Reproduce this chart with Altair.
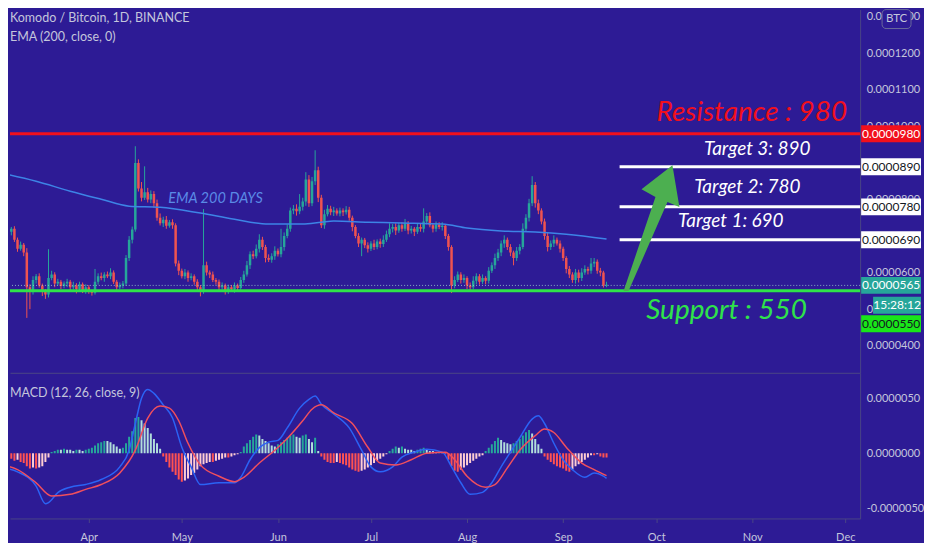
import altair as alt
import pandas as pd

# ---------------- data ----------------
first_day = "2019-03-04"
first_open = 705
closes = [
    715, 728, 712, 720, 690, 665, 676, 655, 560, 548,
    580, 590, 565, 548, 540, 585, 595, 570, 575, 563,
    570, 575, 560, 565, 555, 568, 552, 560, 548, 545,
    575, 590, 585, 595, 590, 600, 575, 560, 565, 570,
    640, 690, 718, 900, 830, 805, 820, 800, 815, 790,
    750, 735, 745, 728, 738, 730, 625, 605, 590, 600,
    585, 590, 575, 560, 548, 620, 600, 595, 580, 575,
    560, 565, 550, 560, 555, 565, 558, 580, 595, 620,
    650, 645, 665, 690, 670, 640, 635, 645, 660, 650,
    670, 700, 720, 770, 775, 768, 780, 795, 855, 790,
    850, 880, 805, 730, 760, 775, 765, 770, 762, 770,
    765, 772, 750, 725, 700, 680, 690, 675, 665, 680,
    670, 685, 678, 690, 705, 720, 725, 715, 730, 720,
    735, 715, 720, 712, 725, 720, 740, 755, 730, 720,
    732, 725, 728, 700, 670, 565, 580, 595, 580, 585,
    565, 560, 578, 590, 575, 585, 578, 605, 620, 640,
    655, 680, 690, 670, 655, 640, 660, 670, 720, 750,
    790, 840, 790, 770, 740, 700, 670, 680, 690, 680,
    665, 640, 610, 595, 580, 600, 585, 600, 610, 605,
    625, 630, 605, 600, 565, 567,
]
upper_wick = [
    8, 6, 10, 5, 7, 6, 9, 5, 12, 8,
    10, 6, 8, 5, 7, 79, 10, 6, 8, 5,
    6, 8, 5, 10, 6, 7, 5, 8, 6, 5,
    35, 8, 10, 6, 8, 12, 6, 5, 8, 7,
    8, 10, 8, 46, 10, 18, 71, 12, 10, 8,
    10, 12, 8, 10, 6, 8, 5, 8, 6, 10,
    6, 8, 5, 7, 6, 154, 10, 6, 8, 5,
    6, 8, 5, 7, 6, 8, 5, 8, 10, 12,
    8, 10, 12, 15, 8, 6, 10, 8, 12, 6,
    50, 10, 12, 8, 10, 12, 35, 10, 20, 12,
    12, 55, 10, 8, 12, 10, 8, 10, 6, 8,
    6, 10, 8, 6, 5, 8, 6, 5, 8, 6,
    10, 6, 8, 12, 10, 15, 8, 10, 6, 8,
    12, 6, 8, 5, 10, 8, 36, 8, 10, 6,
    8, 6, 10, 5, 6, 5, 10, 8, 6, 10,
    5, 8, 12, 8, 6, 10, 5, 10, 8, 12,
    10, 8, 12, 6, 8, 5, 10, 8, 15, 10,
    12, 24, 8, 10, 6, 8, 10, 8, 12, 6,
    8, 6, 5, 8, 6, 10, 8, 12, 10, 6,
    15, 10, 6, 8, 5, 8,
]
lower_wick = [
    6, 8, 5, 10, 6, 8, 5, 10, 84, 48,
    8, 10, 6, 12, 12, 8, 6, 10, 5, 8,
    6, 10, 8, 6, 12, 5, 8, 10, 6, 8,
    5, 8, 6, 10, 5, 8, 6, 12, 5, 8,
    6, 8, 10, 6, 8, 10, 6, 8, 10, 12,
    8, 6, 10, 8, 5, 10, 8, 12, 6, 8,
    10, 6, 8, 10, 13, 6, 8, 10, 6, 8,
    12, 6, 10, 8, 6, 10, 8, 5, 8, 6,
    10, 8, 6, 10, 8, 12, 6, 8, 10, 6,
    8, 10, 6, 8, 10, 12, 8, 10, 12, 10,
    8, 10, 12, 8, 10, 6, 8, 10, 6, 8,
    10, 6, 8, 12, 6, 10, 35, 8, 10, 6,
    8, 6, 10, 8, 6, 8, 10, 12, 6, 8,
    6, 10, 8, 12, 6, 8, 10, 8, 6, 10,
    8, 6, 10, 8, 10, 21, 8, 6, 10, 8,
    10, 8, 6, 10, 8, 6, 10, 8, 6, 10,
    8, 10, 12, 8, 10, 20, 8, 10, 6, 8,
    10, 8, 12, 10, 8, 10, 12, 8, 10, 6,
    10, 8, 12, 10, 8, 10, 12, 8, 6, 10,
    8, 10, 8, 10, 6, 5,
]
ema_day = [0, 11, 22, 32, 41, 51, 64, 75, 86, 97, 103, 107, 118, 129, 142, 150, 161, 172, 182, 195]
ema_val = [872, 850, 823, 801, 782, 779, 763, 746, 733, 733, 738, 741, 738, 736, 733, 722, 714, 711, 705, 692]

hist = [
    -3, -2, -4, -5, -7, -6, -8, -9, -12, -14,
    -13, -14, -13, -12, -8, -4, 1, 2, 3, 3,
    4, 3, 3, 2, 3, 3, 2, 3, 4, 5,
    7, 9, 10, 11, 11, 10, 8, 6, 4, 5,
    9, 15, 20, 32, 33, 30, 27, 23, 18, 13,
    9, 4, -3, -8, -13, -17, -20, -24, -26, -25,
    -23, -20, -18, -15, -12, -10, -9, -8, -8, -7,
    -6, -5, -4, -4, -3, -2, -1, 1, 6, 9,
    12, 15, 17, 16, 13, 11, 9, 7, 6, 8,
    10, 12, 14, 16, 17, 15, 14, 16, 17, 13,
    10, 14, 2, -3, -6, -8, -9, -9, -8, -9,
    -10, -11, -13, -15, -16, -17, -16, -15, -13, -11,
    -9, -7, -5, -3, -1, 2, 4, 6, 5, 6,
    4, 3, 3, 2, 3, 4, 5, 3, 2, 2,
    1, 2, 1, -1, -6, -12, -16, -17, -15, -13,
    -11, -9, -7, -5, -3, -2, 2, 5, 8, 11,
    14, 12, 10, 9, 8, 9, 11, 13, 16, 19,
    21, 18, 13, 8, 4, -3, -6, -8, -10, -12,
    -13, -14, -16, -17, -15, -12, -10, -8, -6, -4,
    -2, -2, -1, -3, -4, -4,
]
macd_day = [0, 5, 11, 14, 15, 18, 22, 27, 32, 38, 41, 43, 45, 47, 49, 52, 55, 58, 61, 64,
            70, 75, 77, 80, 83, 86, 89, 92, 96, 99, 101, 103, 107, 112, 116, 119, 122, 126, 129, 133,
            137, 142, 145, 148, 151, 155, 158, 161, 164, 167, 171, 173, 175, 178, 181, 184, 188, 191, 194, 195]
macd_val = [-13.4, -17, -30, -46, -45, -36, -31, -28.5, -24, -12.5, 2.7, 27, 50, 58, 54.5, 44, 32, 5.4, -12.5, -28.6,
            -27, -27, -22, -6, 5, 10, 11.6, 23, 41, 49, 52, 44.6, 35.7, 23, 2.7, -12.5, -17, -12.5, -3.6, 0.9,
            3.6, 0.9, -12.5, -27, -37.5, -35.7, -27, -12.5, 0.9, 14, 31, 34, 27, 9, -6, -15, -22, -18, -21, -23]
signal_day = [0, 5, 11, 16, 22, 27, 32, 38, 43, 47, 51, 54, 57, 60, 64, 70, 75, 78, 83, 88,
              92, 97, 100, 103, 107, 113, 118, 122, 127, 132, 137, 143, 146, 150, 156, 159, 163, 167, 172, 175,
              178, 182, 187, 191, 195]
signal_val = [-10.7, -15, -27, -39, -37.5, -33, -28.6, -18, 2.7, 32, 43, 41, 29.5, 9, -10.7, -21, -26, -22, -9, 2.7,
              13.4, 29.5, 40, 44, 36.6, 27, 5.4, -9, -10.7, -6, 0, 0.9, -6, -21, -31, -28.6, -13.4, 2.7, 16, 22,
              18.8, 5.4, -9, -15, -20.5]

price_ticks = [400, 500, 600, 800, 1000, 1100, 1200, 1300]
macd_ticks = [-50, 0, 50]
resistance = 980
support = 550
targets = [890, 780, 690]
last_price = 565
timer_text = "15:28:12"
title_text = "Komodo / Bitcoin, 1D, BINANCE"
ema_legend = "EMA (200, close, 0)"
macd_legend = "MACD (12, 26, close, 9)"

big_notes = ["Resistance : 980", "Support : 550"]
big_note_day = ["2019-10-31T21:00:00", "2019-10-23T17:00:00"]
big_note_val = [1036, 495]
target_notes = ["Target 3: 890", "Target 2: 780", "Target 1: 690"]
target_note_day = ["2019-11-02T14:00:00", "2019-10-30T10:00:00", "2019-10-25T02:00:00"]
target_note_val = [938, 834, 741]
target_line_start = "2019-09-19T05:00:00"
target_line_end = "2019-12-31T00:00:00"
ema_note = ["EMA 200 DAYS"]
ema_note_day = ["2019-05-11T21:00:00"]
ema_note_val = [802]
arrow_day = ["2019-09-29T12:00:00"]
arrow_val = [722]

# ---------------- styles ----------------
BG = "#2d1b95"
SEP = "#4a4585"
TXT = "#c4c6dc"
UP = "#26a69a"
DOWN = "#ef5350"
RED = "#f2101c"
GREEN = "#2fe34a"
FONT = "Lato"
PW = 852  # plot width

dates = pd.date_range(first_day, periods=len(closes), freq="D")
opens = [first_open] + closes[:-1]
highs = [max(o, c) + u for o, c, u in zip(opens, closes, upper_wick)]
lows = [min(o, c) - l for o, c, l in zip(opens, closes, lower_wick)]
cdf = pd.DataFrame({"d": dates, "o": opens, "c": closes, "h": highs, "l": lows,
                    "col": [UP if c >= o else DOWN for o, c in zip(opens, closes)]})

hcol = []
for i, h in enumerate(hist):
    prev = hist[i - 1] if i > 0 else h
    if h >= 0:
        hcol.append("#26a69a" if h > prev else "#b2dfdb")
    else:
        hcol.append("#ffcdd2" if h > prev else "#ff5252")
hdf = pd.DataFrame({"d": dates, "h": hist, "z": [0] * len(hist), "col": hcol})
macd_df = pd.DataFrame({"d": dates[macd_day], "m": macd_val})
sig_df = pd.DataFrame({"d": dates[signal_day], "s": signal_val})
ema_df = pd.DataFrame({"d": dates[ema_day], "e": ema_val})

XSCALE = alt.Scale(domain=[alt.DateTime(year=2019, month=3, date=6, hours=13, minutes=48),
                           alt.DateTime(year=2019, month=12, date=5, hours=19, minutes=12)],
                   padding=0, nice=False)
PSCALE = alt.Scale(domain=[325.7, 1320.2], nice=False, zero=False, padding=0)
MSCALE = alt.Scale(domain=[-59.5, 73.2], nice=False, zero=False, padding=0)
LABEL_EXPR = "replace(format(datum.value / 10000000, '.7f'), '\u2212', '-')"

PAXIS = alt.Axis(orient="right", values=price_ticks, labelExpr=LABEL_EXPR, grid=False, ticks=False,
                 domain=True, domainColor=SEP, title=None, labelPadding=6)
MAXIS = alt.Axis(orient="right", values=macd_ticks, labelExpr=LABEL_EXPR, grid=False, ticks=False,
                 domain=True, domainColor=SEP, title=None, labelPadding=6)
XTOP = alt.X("d:T", scale=XSCALE, axis=alt.Axis(labels=False, ticks=False, domain=True, domainColor=SEP,
                                               grid=False, title=None))
XBOT = alt.X("d:T", scale=XSCALE, axis=alt.Axis(format="%b", tickCount={"interval": "month", "step": 1},
                                               labelFlush=False, grid=False, title=None, tickSize=4,
                                               tickColor=SEP, domainColor=SEP, labelPadding=9))

def py(field):
    return alt.Y(field, scale=PSCALE, axis=PAXIS)

# ---------------- price panel ----------------
res_rule = alt.Chart(pd.DataFrame({"v": [resistance]})).mark_rule(color=RED, strokeWidth=3).encode(y=py("v:Q"))
sup_rule = alt.Chart(pd.DataFrame({"v": [support]})).mark_rule(color=GREEN, strokeWidth=3).encode(y=py("v:Q"))
last_rule = alt.Chart(pd.DataFrame({"v": [last_price]})).mark_rule(
    color="#9fd8d0", strokeWidth=1, strokeDash=[1, 2], opacity=0.8).encode(y=py("v:Q"))
wicks = alt.Chart(cdf).mark_rule(strokeWidth=1, clip=True).encode(
    x=XTOP, y=py("l:Q"), y2="h:Q", color=alt.Color("col:N", scale=None))
bodies = alt.Chart(cdf).mark_bar(size=2.5, clip=True).encode(
    x=XTOP, y=py("o:Q"), y2="c:Q", color=alt.Color("col:N", scale=None))
ema_line = alt.Chart(ema_df).mark_line(color="#3d84e6", strokeWidth=1.5, interpolate="monotone", clip=True).encode(
    x=XTOP, y=py("e:Q"))
tdf = pd.DataFrame({"d": [target_line_start] * 3, "d2": [target_line_end] * 3, "v": targets})
target_rules = alt.Chart(tdf).mark_rule(color="#ffffff", strokeWidth=3, clip=True).encode(
    x=XTOP, x2="d2:T", y=py("v:Q"))
ARROW = "M-0.444,1L0.063,-0.492L-0.159,-0.619L0.333,-1L0.444,-0.333L0.254,-0.413L-0.365,1Z"
arrow = alt.Chart(pd.DataFrame({"d": arrow_day, "v": arrow_val})).mark_point(
    shape=ARROW, size=15876, filled=True, opacity=1, color="#4caf50", strokeWidth=0).encode(x=XTOP, y=py("v:Q"))

bdf = pd.DataFrame({"d": big_note_day, "v": big_note_val, "t": big_notes, "col": [RED, GREEN]})
big_text = alt.Chart(bdf).mark_text(font=FONT, fontSize=28, fontStyle="italic", align="center",
                                    baseline="middle").encode(
    x=XTOP, y=py("v:Q"), text="t:N", color=alt.Color("col:N", scale=None))
tndf = pd.DataFrame({"d": target_note_day, "v": target_note_val, "t": target_notes})
target_text = alt.Chart(tndf).mark_text(font=FONT, fontSize=19, fontStyle="italic", align="center",
                                        baseline="middle", color="#ffffff").encode(
    x=XTOP, y=py("v:Q"), text="t:N")
endf = pd.DataFrame({"d": ema_note_day, "v": ema_note_val, "t": ema_note})
ema_text = alt.Chart(endf).mark_text(font=FONT, fontSize=14.5, fontStyle="italic", align="center",
                                     baseline="middle", color="#5a8ae6").encode(
    x=XTOP, y=py("v:Q"), text="t:N")

leg_df = pd.DataFrame({"t": [title_text, ema_legend], "yy": [8, 27]})
legend = alt.Chart(leg_df).mark_text(font=FONT, fontSize=12.5, align="left", baseline="middle",
                                     color=TXT).encode(
    x=alt.value(0), y=alt.Y("yy:Q", scale=None), text="t:N")

badge_levels = [resistance] + targets + [last_price]
badge_fill = [RED, "#ffffff", "#ffffff", "#ffffff", UP]
badge_txt = ["#ffffff", "#131722", "#131722", "#131722", "#ffffff"]
badf = pd.DataFrame({"v": badge_levels, "f": badge_fill, "tc": badge_txt,
                     "lab": [f"{v / 1e7:.7f}" for v in badge_levels]})
BCX = 883
BOX = "M-1,-0.283H1V0.283H-1Z"
badge_box = alt.Chart(badf).mark_point(shape=BOX, size=3600, filled=True, opacity=1, strokeWidth=0).encode(
    x=alt.value(BCX), y=py("v:Q"), color=alt.Color("f:N", scale=None))
badge_lab = alt.Chart(badf).mark_text(font=FONT, fontSize=12, align="center", baseline="middle").encode(
    x=alt.value(BCX), y=py("v:Q"), text="lab:N", color=alt.Color("tc:N", scale=None))
sdf = pd.DataFrame({"v": [support], "lab": [f"{support / 1e7:.7f}"]})
sup_box = alt.Chart(sdf).mark_point(shape=BOX, size=3600, filled=True, opacity=1, strokeWidth=0,
                                    color="#19e619", yOffset=33).encode(x=alt.value(BCX), y=py("v:Q"))
sup_lab = alt.Chart(sdf).mark_text(font=FONT, fontSize=12, align="center", baseline="middle",
                                   color="#131722", dy=33).encode(x=alt.value(BCX), y=py("v:Q"), text="lab:N")
tmdf = pd.DataFrame({"v": [last_price], "t": [timer_text]})
TBOX = "M-1,-0.354H1V0.354H-1Z"
timer_box = alt.Chart(tmdf).mark_point(shape=TBOX, size=2304, filled=True, opacity=1, strokeWidth=0,
                                       color=UP, yOffset=20).encode(x=alt.value(889), y=py("v:Q"))
timer_lab = alt.Chart(tmdf).mark_text(font=FONT, fontSize=12, align="center", baseline="middle",
                                      color="#ffffff", dy=20).encode(x=alt.value(889), y=py("v:Q"), text="t:N")
btc_df = pd.DataFrame({"t": ["BTC"]})
btc_box = alt.Chart(btc_df).mark_rect(cornerRadius=4, fill=BG, stroke="#6a6a9c", strokeWidth=1).encode(
    x=alt.value(874), x2=alt.value(903), y=alt.value(0), y2=alt.value(19))
btc_lab = alt.Chart(btc_df).mark_text(font=FONT, fontSize=11.5, align="center", baseline="middle",
                                      color=TXT).encode(x=alt.value(888.5), y=alt.value(9.5), text="t:N")

top = alt.layer(wicks, bodies, res_rule, sup_rule, last_rule, ema_line, target_rules, arrow,
                big_text, target_text, ema_text, legend, badge_box, badge_lab, sup_box, sup_lab,
                timer_box, timer_lab, btc_box, btc_lab).properties(width=PW, height=364)

# ---------------- MACD panel ----------------
hbars = alt.Chart(hdf).mark_bar(size=2, clip=True).encode(
    x=XBOT, y=alt.Y("h:Q", scale=MSCALE, axis=MAXIS), y2="z:Q", color=alt.Color("col:N", scale=None))
mline = alt.Chart(macd_df).mark_line(color="#2b63f5", strokeWidth=1.5, interpolate="monotone", clip=True).encode(
    x=XBOT, y=alt.Y("m:Q", scale=MSCALE, axis=MAXIS))
sline = alt.Chart(sig_df).mark_line(color="#f04f5d", strokeWidth=1.5, interpolate="monotone", clip=True).encode(
    x=XBOT, y=alt.Y("s:Q", scale=MSCALE, axis=MAXIS))
mleg = alt.Chart(pd.DataFrame({"t": [macd_legend]})).mark_text(
    font=FONT, fontSize=12.5, align="left", baseline="middle", color=TXT).encode(
    x=alt.value(0), y=alt.value(20), text="t:N")
bottom = alt.layer(hbars, mline, sline, mleg).properties(width=PW, height=146)

chart = alt.vconcat(top, bottom, spacing=0).resolve_scale(y="independent").properties(
    background=BG, padding={"left": 0, "top": 0, "right": 0, "bottom": 0}
).configure_view(strokeWidth=0).configure_axis(
    labelFont=FONT, labelColor=TXT, labelFontSize=11
)

chart.save("out.html", embed_options={"renderer": "svg", "actions": False})
